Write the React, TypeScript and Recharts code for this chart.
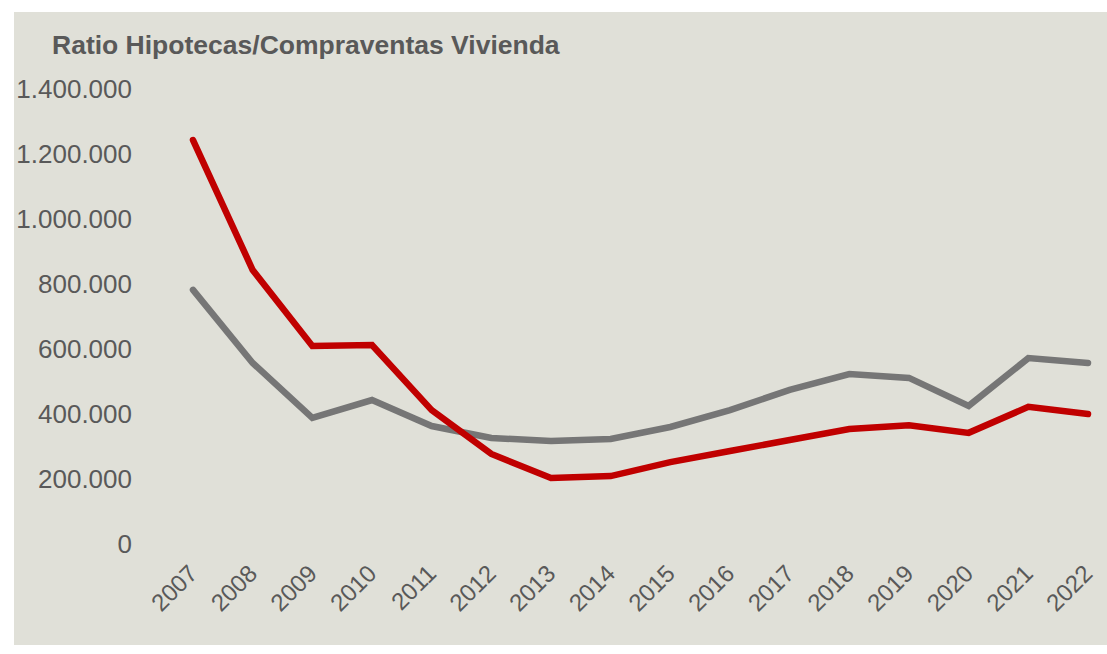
import React from 'react';
import { LineChart, Line, XAxis, YAxis } from 'recharts';

// years on the x axis
const years = [
  '2007', '2008', '2009', '2010', '2011', '2012', '2013', '2014',
  '2015', '2016', '2017', '2018', '2019', '2020', '2021', '2022',
];

// red series
const hipotecas = [
  1243000, 843000, 609000, 612000, 412000, 277000, 203000, 209000,
  252000, 286000, 320000, 354000, 365000, 342000, 422000, 400000,
];

// grey series
const compraventas = [
  782000, 557000, 388000, 443000, 363000, 326000, 317000, 323000,
  360000, 412000, 474000, 523000, 511000, 425000, 572000, 557000,
];

const yTicks = [0, 200000, 400000, 600000, 800000, 1000000, 1200000, 1400000];

const data = years.map((year, i) => ({
  year,
  hipotecas: hipotecas[i],
  compraventas: compraventas[i],
}));

const fmt = (v: number) => String(v).replace(/\B(?=(\d{3})+(?!\d))/g, '.');

const FONT = '"Liberation Sans", Arial, sans-serif';

const YearTick = (props: any) => {
  const { x, y, payload } = props;
  const bx = x + 6;
  const by = y + 29;
  return (
    <text
      x={bx}
      y={by}
      textAnchor="end"
      fill="#595959"
      fontSize={24}
      fontFamily={FONT}
      transform={`rotate(-45, ${bx}, ${by})`}
    >
      {payload.value}
    </text>
  );
};

export default function App() {
  return (
    <div
      style={{
        position: 'fixed',
        left: 0,
        top: 0,
        width: 1107,
        height: 654,
        background: '#ffffff',
        overflow: 'hidden',
      }}
    >
      <div
        style={{
          position: 'absolute',
          left: 14,
          top: 12,
          width: 1093,
          height: 633,
          background: '#e0e0d8',
        }}
      >
        <div
          style={{
            position: 'absolute',
            left: 38,
            top: 20,
            fontFamily: FONT,
            fontWeight: 'bold',
            fontSize: 26.5,
            lineHeight: '26px',
            color: '#595959',
            whiteSpace: 'nowrap',
          }}
        >
          Ratio Hipotecas/Compraventas Vivienda
        </div>
        <LineChart
          width={1093}
          height={633}
          data={data}
          margin={{ top: 77, right: 19, bottom: 0, left: 0 }}
        >
          <XAxis
            dataKey="year"
            axisLine={false}
            tickLine={false}
            tickSize={0}
            height={101}
            interval={0}
            padding={{ left: 53, right: 0 }}
            tick={<YearTick />}
          />
          <YAxis
            width={126}
            domain={[0, 1400000]}
            ticks={yTicks}
            tickFormatter={fmt}
            axisLine={false}
            tickLine={false}
            tickSize={0}
            tickMargin={8}
            interval={0}
            tick={{ fill: '#595959', fontSize: 26, fontFamily: FONT }}
          />
          <Line
            type="linear"
            dataKey="compraventas"
            stroke="#767676"
            strokeWidth={6.5}
            strokeLinecap="round"
            dot={false}
            isAnimationActive={false}
          />
          <Line
            type="linear"
            dataKey="hipotecas"
            stroke="#c00000"
            strokeWidth={6.5}
            strokeLinecap="round"
            dot={false}
            isAnimationActive={false}
          />
        </LineChart>
      </div>
    </div>
  );
}
